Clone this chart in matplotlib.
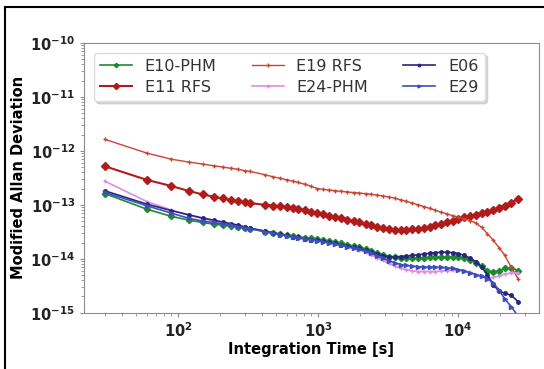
import matplotlib
matplotlib.use('Agg')
import matplotlib.pyplot as plt
from matplotlib.lines import Line2D
import numpy as np

# Tempos de integração (s)
tau = [30, 60, 90, 120, 150, 180, 210, 240, 270, 300, 330, 420, 480, 540, 600,
       660, 720, 810, 900, 990, 1080, 1200, 1320, 1470, 1620, 1800, 1980, 2190,
       2400, 2640, 2910, 3210, 3540, 3900, 4290, 4710, 5190, 5700, 6270, 6900,
       7590, 8340, 9180, 10080, 11100, 12210, 13440, 14790, 16260, 17880, 19680,
       21630, 24000, 27000]

# Desvios de Allan modificados, em unidades de 1e-14
e10_phm = [16.2, 8.3, 6.1, 5.2, 4.7, 4.4, 4.2, 4.0, 3.85, 3.7, 3.6, 3.2, 3.0, 2.85,
           2.75, 2.65, 2.55, 2.45, 2.38, 2.3, 2.22, 2.12, 2.03, 1.93, 1.83, 1.73,
           1.65, 1.52, 1.4, 1.3, 1.18, 1.1, 1.06, 1.04, 1.03, 1.03, 1.04, 1.05,
           1.06, 1.07, 1.08, 1.08, 1.08, 1.07, 1.03, 0.95, 0.84, 0.72, 0.6, 0.57,
           0.6, 0.66, 0.68, 0.6]
e11_rfs = [52, 29, 22.3, 18, 15.6, 14.1, 13.1, 12.3, 11.6, 11.1, 10.7, 10.0, 9.7,
           9.4, 9.0, 8.7, 8.4, 7.9, 7.4, 7.0, 6.7, 6.3, 6.0, 5.6, 5.3, 5.0, 4.75,
           4.45, 4.2, 3.95, 3.75, 3.6, 3.45, 3.4, 3.4, 3.5, 3.6, 3.75, 3.95, 4.2,
           4.45, 4.75, 5.1, 5.5, 5.85, 6.2, 6.6, 7.0, 7.5, 8.1, 8.8, 9.7, 11.0, 13.0]
e19_rfs = [164, 91, 70, 62, 57, 53, 50, 47.5, 45.5, 43, 41.5, 36, 33, 31, 29, 27.5,
           26, 24, 22, 20, 19.3, 18.8, 18.3, 17.8, 17.3, 16.9, 16.5, 16.1, 15.7,
           15.2, 14.6, 14.0, 13.2, 12.4, 11.6, 10.8, 10.0, 9.3, 8.6, 7.9, 7.3, 6.8,
           6.3, 5.9, 5.5, 5.1, 4.6, 3.8, 2.9, 2.2, 1.6, 1.15, 0.7, 0.42]
e24_phm = [27.5, 11.5, 8.0, 6.4, 5.6, 5.0, 4.6, 4.3, 4.05, 3.85, 3.65, 3.2, 3.0,
           2.82, 2.68, 2.56, 2.46, 2.34, 2.25, 2.17, 2.09, 1.99, 1.89, 1.78, 1.67,
           1.56, 1.46, 1.32, 1.18, 1.05, 0.93, 0.82, 0.73, 0.67, 0.63, 0.6, 0.58,
           0.58, 0.58, 0.58, 0.59, 0.6, 0.61, 0.62, 0.6, 0.56, 0.51, 0.47, 0.44,
           0.45, 0.48, 0.52, 0.55, 0.55]
e06 = [18.2, 10.3, 7.8, 6.5, 5.7, 5.2, 4.8, 4.45, 4.2, 3.9, 3.7, 3.25, 3.05, 2.85,
       2.7, 2.58, 2.48, 2.36, 2.27, 2.2, 2.12, 2.02, 1.92, 1.82, 1.72, 1.62, 1.55,
       1.43, 1.32, 1.22, 1.14, 1.1, 1.09, 1.1, 1.12, 1.15, 1.18, 1.22, 1.26, 1.3,
       1.32, 1.32, 1.3, 1.25, 1.15, 1.03, 0.88, 0.7, 0.5, 0.33, 0.25, 0.23, 0.21,
       0.16]
e29 = [17, 9.6, 7.0, 5.6, 5.0, 4.7, 4.4, 4.15, 3.95, 3.75, 3.6, 3.15, 2.95, 2.8,
       2.66, 2.55, 2.45, 2.33, 2.24, 2.15, 2.07, 1.97, 1.87, 1.77, 1.67, 1.57,
       1.49, 1.38, 1.26, 1.14, 1.02, 0.92, 0.84, 0.78, 0.75, 0.73, 0.71, 0.7, 0.7,
       0.7, 0.69, 0.68, 0.66, 0.63, 0.59, 0.55, 0.51, 0.47, 0.43, 0.36, 0.26,
       0.18, 0.13, 0.085]

y_ticks = [1e-15, 1e-14, 1e-13, 1e-12, 1e-11, 1e-10]
x_ticks = [1e2, 1e3, 1e4]

plt.rcParams['font.family'] = ['DejaVu Sans']
plt.rcParams['font.weight'] = 'bold'

fig = plt.figure(figsize=(5.44, 3.69), dpi=100)
ax = fig.add_axes([0.1544, 0.1526, 0.8364, 0.7309])

t = np.array(tau)
escala = 1e-14
series = [
    ('E10-PHM', e10_phm, '#1e8a2e', 'D', 3.2, 1.2),
    ('E11 RFS', e11_rfs, '#b01c1c', 'D', 4.5, 1.5),
    ('E19 RFS', e19_rfs, '#cc4433', '+', 3.5, 1.0),
    ('E24-PHM', e24_phm, '#dd8edd', '+', 3.5, 1.2),
    ('E06', e06, '#26267e', 'o', 2.5, 1.2),
    ('E29', e29, '#3c4ec0', '>', 3, 1.2),
]
for nome, vals, cor, mk, ms, lw in series:
    ax.plot(t, np.array(vals) * escala, color=cor, marker=mk, markersize=ms,
            linewidth=lw, label=nome)

ax.set_xscale('log')
ax.set_yscale('log')
xlim = ax.get_xlim()
ax.set_yticks(y_ticks)
ax.set_xticks(x_ticks)
ax.set_xlim(xlim)
ax.set_ylim(1e-15, 1e-10)

for s in ax.spines.values():
    s.set_color('#8c8c8c')
ax.tick_params(which='both', colors='#8c8c8c', labelcolor='#222222', labelsize=10.5)
ax.tick_params(which='major', length=3)
ax.tick_params(which='minor', length=2)

ax.set_xlabel('Integration Time [s]', fontsize=10.5, fontweight='bold', labelpad=1)
ax.set_ylabel('Modified Allan Deviation', fontsize=10.5, fontweight='bold', labelpad=3)

leg = ax.legend(loc='upper left', ncol=3, fancybox=True, markerscale=0.7,
                shadow={'color': '0.75', 'alpha': 0.6}, framealpha=1,
                edgecolor='#dddddd', labelspacing=0.35, columnspacing=2.2,
                borderaxespad=0.6, prop={'weight': 'normal', 'size': 11.5})
for txt in leg.get_texts():
    txt.set_color('#333333')

# Moldura externa: só aparecem os lados esquerdo e superior
x0 = 5 / 544
y0 = 1 - 7 / 369
fig.add_artist(Line2D([x0, x0], [0, y0], transform=fig.transFigure,
                      color='black', linewidth=1.5))
fig.add_artist(Line2D([x0, 1], [y0, y0], transform=fig.transFigure,
                      color='black', linewidth=1.5))

plt.savefig('out.png', dpi=100)
